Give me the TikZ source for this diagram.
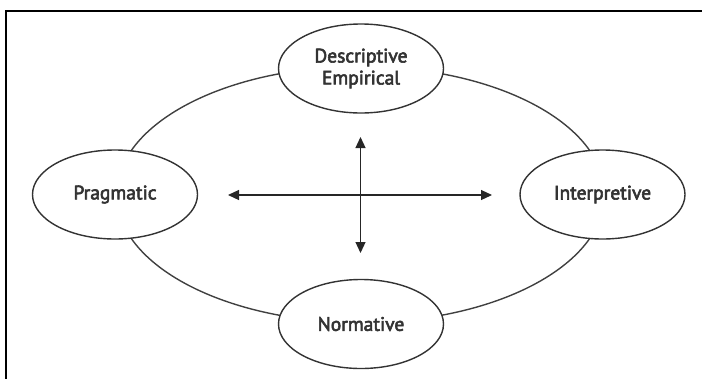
\documentclass[tikz,border=0pt]{standalone}
\usepackage{fontspec}
\setmainfont{PT Sans}
\newfontfamily\labelfont{PT Sans}[FakeBold=3]
\usetikzlibrary{shapes.geometric,arrows.meta}
\begin{document}
\begin{tikzpicture}[x=1pt,y=-1pt,
  oval/.style={ellipse,draw=black!80,line width=1.4pt,fill=white,
    minimum width=165pt,minimum height=89pt,inner sep=0pt,
    font=\labelfont\fontsize{19.5}{24}\selectfont,text=black!80,align=center},
  ring/.style={draw=black!75,line width=1.4pt},
  dblarrow/.style={draw=black!85,line width=1.2pt,{Triangle[length=11pt,width=10pt]}-{Triangle[length=11pt,width=10pt]}},
  frameline/.style={draw=black,line width=2.5pt}]
\useasboundingbox (0,0) rectangle (702,378);
% frame (only top and left edges visible)
\draw[frameline] (6,390) -- (6,11) -- (710,11);
% big ring
\coordinate (ctr) at (360.5,194.5);
\draw[ring] (ctr) ellipse [x radius=244pt, y radius=128pt];
% nodes
\node[oval] (desc) at (361,68.5) {Descriptive\\[-2pt]Empirical};
\node[oval] (prag) at (115,194.5) {Pragmatic};
\node[oval] (interp) at (602.5,194.5) {Interpretive};
\node[oval] (norm) at (361,324) {Normative};
% cross arrows
\coordinate (aL) at (228,195);
\coordinate (aR) at (492,195);
\coordinate (aT) at (360.5,137);
\coordinate (aB) at (360.5,253);
\draw[dblarrow] (aL) -- (aR);
\draw[dblarrow] (aT) -- (aB);
\end{tikzpicture}
\end{document}
